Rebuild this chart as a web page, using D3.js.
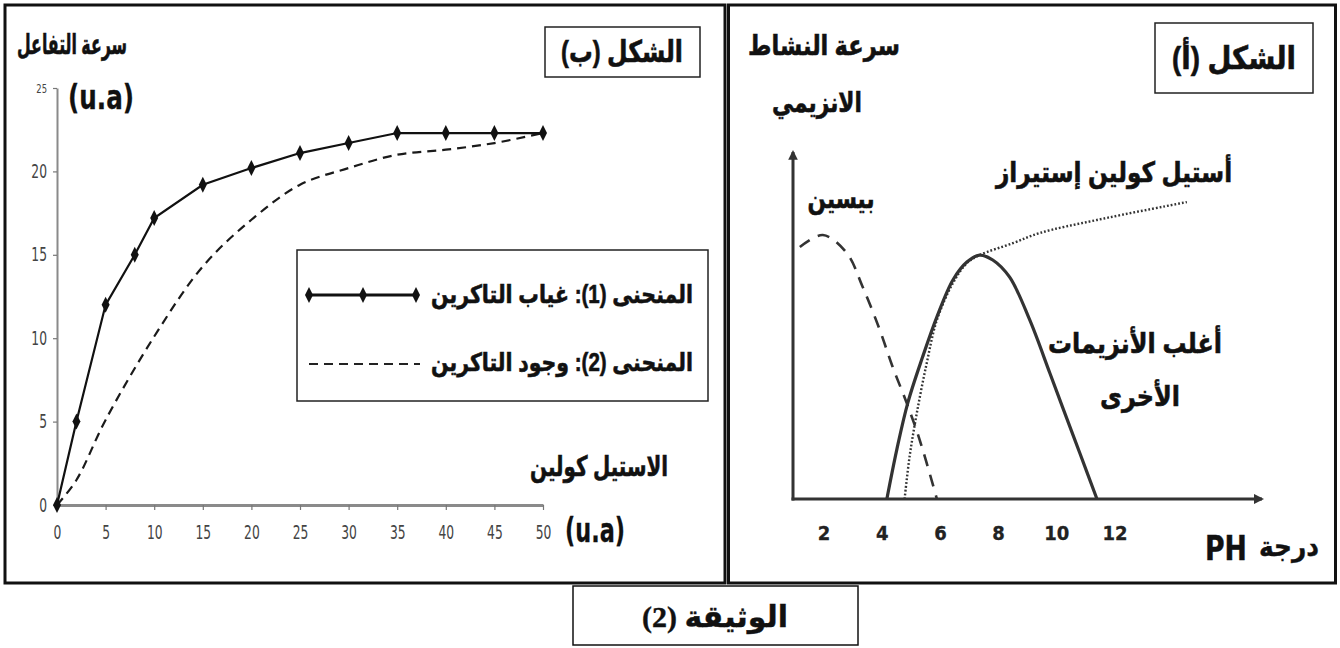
<!DOCTYPE html>
<html><head><meta charset="utf-8">
<script src="https://cdn.jsdelivr.net/npm/d3@7"></script>
<style>
html,body{margin:0;padding:0;background:#fff;}
svg{display:block;}
</style></head>
<body>
<svg id="chart" width="1340" height="648"></svg>
<script>
// ---------- DATA: figure (b) ----------
const substrate1 = [0, 2, 5, 8, 10, 15, 20, 25, 30, 35, 40, 45, 50];
const rateWithoutInhibitor = [0, 5, 12, 15, 17.2, 19.2, 20.2, 21.1, 21.7, 22.3, 22.3, 22.3, 22.3];
const substrate2 = [0, 2, 5, 10, 15, 20, 25, 30, 35, 40, 45, 50];
const rateWithInhibitor = [0, 1.5, 5.1, 10.1, 14.3, 17.1, 19.2, 20.2, 21.0, 21.3, 21.7, 22.3];
const rateTicks = [0, 5, 10, 15, 20, 25];
const substrateTicks = [0, 5, 10, 15, 20, 25, 30, 35, 40, 45, 50];

// ---------- DATA: figure (a) ----------
const pepsinPH  = [1.17, 1.96, 2.78, 3.33, 3.92, 4.36, 4.84, 5.29, 5.88];
const pepsinAct = [71.8, 75.2, 70.1, 60.4, 48.1, 37.6, 27.4, 16.8, 0];
const otherPH  = [4.16, 4.50, 4.88, 5.39, 5.88, 6.43, 6.91, 7.35, 7.80, 8.38, 9.07, 9.76, 10.21, 10.79, 11.38];
const otherAct = [0, 14.0, 27.4, 40.5, 51.9, 62.4, 67.5, 69.5, 68.1, 63.2, 51.0, 35.9, 25.9, 13.1, 0];
const achePH  = [4.77, 4.94, 5.19, 5.53, 5.88, 6.43, 6.91, 7.35, 8.49, 9.42, 11.38, 14.47];
const acheAct = [0, 12.0, 24.5, 38.7, 51.0, 61.5, 67.2, 69.5, 72.9, 75.8, 79.5, 84.6];
const phTicks = [2, 4, 6, 8, 10, 12];

// ---------- TEXTS ----------
const figB = "الشكل (ب)", figA = "الشكل (أ)";
const yTitleB = "سرعة التفاعل", unit = "(u.a)", xTitleB = "الاستيل كولين";
const legend1 = "المنحنى (1): غياب التاكرين", legend2 = "المنحنى (2): وجود التاكرين";
const yTitleA1 = "سرعة النشاط", yTitleA2 = "الانزيمي";
const pepsinLbl = "بيسين", acheLbl = "أستيل كولين إستيراز";
const otherLbl1 = "أغلب الأنزيمات", otherLbl2 = "الأخرى";
const xTitleAword = "درجة", xTitleAunit = "PH", caption = "الوثيقة (2)";

const svg = d3.select("#chart");
const AR = "'Liberation Sans','DejaVu Sans',sans-serif";
const NARROW = "'Liberation Sans Narrow','DejaVu Sans Condensed','Liberation Sans',sans-serif";

function label(txt, cx, cy, w, fs, opts = {}) {
  const t = svg.append("text")
    .attr("x", 0).attr("y", 0)
    .attr("text-anchor", "middle")
    .attr("dominant-baseline", "central")
    .attr("direction", opts.ltr ? "ltr" : "rtl")
    .style("font-family", opts.family || AR)
    .style("font-weight", "bold")
    .style("font-size", fs + "px")
    .attr("fill", "#111")
    .attr("stroke", "#111").attr("stroke-width", opts.sw == null ? 0.6 : opts.sw)
    .text(txt);
  const bw = t.node().getBBox().width || 1;
  let k = w ? w / bw : 1;
  k = Math.max(0.45, Math.min(1.6, k));
  t.attr("transform", `translate(${cx},${cy}) scale(${k},1)`);
  return t;
}

// ---------- FRAMES ----------
svg.append("rect").attr("x", 5).attr("y", 5).attr("width", 720).attr("height", 578)
  .attr("fill", "none").attr("stroke", "#111").attr("stroke-width", 3);
svg.append("rect").attr("x", 728.5).attr("y", 5).attr("width", 607).attr("height", 578)
  .attr("fill", "none").attr("stroke", "#111").attr("stroke-width", 3);
svg.append("rect").attr("x", 573).attr("y", 586).attr("width", 285).attr("height", 59)
  .attr("fill", "#fff").attr("stroke", "#111").attr("stroke-width", 1.5);
label(caption, 715, 616, 146, 30, { family: "'Liberation Serif','DejaVu Serif','DejaVu Sans',serif", sw: 0.4 });

// =============== FIGURE (b) ===============
const xL = d3.scaleLinear().domain([0, 50]).range([57, 543]);
const yL = d3.scaleLinear().domain([0, 25]).range([505, 88]);

const gy = svg.append("g").attr("transform", `translate(${xL(0)},0)`)
  .call(d3.axisLeft(yL).tickValues(rateTicks).tickSize(4).tickSizeOuter(0).tickPadding(6));
gy.select(".domain").attr("stroke", "#8a8a8a").attr("stroke-width", 2);
gy.selectAll(".tick line").attr("stroke", "#777").attr("stroke-width", 1.2);
gy.selectAll(".tick text").each(function (d) {
  const s = 0.72;
  d3.select(this)
    .style("font-family", NARROW).style("font-size", d === 25 ? "13px" : "19px")
    .attr("fill", "#444")
    .attr("x", -10 / s)
    .attr("transform", `scale(${s},1)`);
});

const gx = svg.append("g").attr("transform", `translate(0,${yL(0)})`)
  .call(d3.axisBottom(xL).tickValues(substrateTicks).tickSize(5).tickSizeOuter(0).tickPadding(16));
gx.select(".domain").attr("stroke", "#8a8a8a").attr("stroke-width", 3);
gx.selectAll(".tick line").attr("stroke", "#777").attr("stroke-width", 1.2);
gx.selectAll(".tick text")
  .style("font-family", NARROW).style("font-size", "19px")
  .attr("fill", "#444").attr("transform", "scale(0.72,1)");

// curve 2 (dashed)
const line2 = d3.line().x((d, i) => xL(substrate2[i])).y(d => yL(d)).curve(d3.curveCatmullRom.alpha(0.5));
svg.append("path").attr("d", line2(rateWithInhibitor))
  .attr("fill", "none").attr("stroke", "#1a1a1a").attr("stroke-width", 2.2)
  .attr("stroke-dasharray", "9,6");

// curve 1 (solid + diamonds)
const line1 = d3.line().x((d, i) => xL(substrate1[i])).y(d => yL(d));
svg.append("path").attr("d", line1(rateWithoutInhibitor))
  .attr("fill", "none").attr("stroke", "#111").attr("stroke-width", 2.2);
const diamond = "M0,-8 L4,0 L0,8 L-4,0 Z";
svg.append("g").selectAll("path").data(rateWithoutInhibitor).join("path")
  .attr("d", diamond)
  .attr("transform", (d, i) => `translate(${xL(substrate1[i])},${yL(d)})`)
  .attr("fill", "#111");

// titles
label(yTitleB, 72, 44, 110, 28);
label(unit, 101, 97, 66, 34, { ltr: true, sw: 0.3, family: NARROW });
label(xTitleB, 599, 466, 138, 28);
label(unit, 595, 530, 60, 34, { ltr: true, sw: 0.3, family: NARROW });
svg.append("rect").attr("x", 545).attr("y", 27).attr("width", 155).attr("height", 50)
  .attr("fill", "none").attr("stroke", "#222").attr("stroke-width", 1.5);
label(figB, 622, 52, 122, 30);

// legend
svg.append("rect").attr("x", 297).attr("y", 250).attr("width", 411).attr("height", 151)
  .attr("fill", "#fff").attr("stroke", "#222").attr("stroke-width", 1.5);
svg.append("line").attr("x1", 309).attr("x2", 416).attr("y1", 295).attr("y2", 295)
  .attr("stroke", "#111").attr("stroke-width", 2.8);
svg.append("g").selectAll("path").data([309, 363, 416]).join("path")
  .attr("d", diamond).attr("transform", d => `translate(${d},295)`).attr("fill", "#111");
svg.append("line").attr("x1", 309).attr("x2", 420).attr("y1", 364).attr("y2", 364)
  .attr("stroke", "#222").attr("stroke-width", 2.2).attr("stroke-dasharray", "9,6");
label(legend1, 562, 294, 262, 25);
label(legend2, 562, 362, 262, 25);

// =============== FIGURE (a) ===============
const xR = d3.scaleLinear().domain([2, 12]).range([824, 1115]);
const yR = d3.scaleLinear().domain([0, 100]).range([499, 148]);

const defs = svg.append("defs");
defs.append("marker").attr("id", "arrow").attr("viewBox", "0 0 10 10")
  .attr("refX", 8).attr("refY", 5).attr("markerWidth", 3.2).attr("markerHeight", 3.2)
  .attr("orient", "auto")
  .append("path").attr("d", "M0,0 L10,5 L0,10 Z").attr("fill", "#333");

svg.append("line").attr("x1", 793).attr("y1", yR(0) + 1.5).attr("x2", 793).attr("y2", yR(100) + 4)
  .attr("stroke", "#333").attr("stroke-width", 3).attr("marker-end", "url(#arrow)");
svg.append("line").attr("x1", 791.5).attr("y1", yR(0)).attr("x2", 1262).attr("y2", yR(0))
  .attr("stroke", "#333").attr("stroke-width", 3.2).attr("marker-end", "url(#arrow)");

svg.append("g").selectAll("text").data(phTicks).join("text")
  .attr("x", d => xR(d)).attr("y", 533)
  .attr("text-anchor", "middle").attr("dominant-baseline", "central")
  .style("font-family", NARROW).style("font-weight", "bold").style("font-size", "20px")
  .attr("fill", "#222").attr("stroke", "#222").attr("stroke-width", 0.3).text(d => d);

const lineR = (xs) => d3.line().x((d, i) => xR(xs[i])).y(d => yR(d)).curve(d3.curveCatmullRom.alpha(0.5));

svg.append("path").attr("d", lineR(achePH)(acheAct))
  .attr("fill", "none").attr("stroke", "#333").attr("stroke-width", 2.4)
  .attr("stroke-dasharray", "1.8,2");
svg.append("path").attr("d", lineR(otherPH)(otherAct))
  .attr("fill", "none").attr("stroke", "#333").attr("stroke-width", 3.2);
svg.append("path").attr("d", lineR(pepsinPH)(pepsinAct))
  .attr("fill", "none").attr("stroke", "#333").attr("stroke-width", 2.6)
  .attr("stroke-dasharray", "12,9");

svg.append("rect").attr("x", 1155).attr("y", 23).attr("width", 158).attr("height", 70)
  .attr("fill", "none").attr("stroke", "#222").attr("stroke-width", 1.5);
label(figA, 1234, 58, 124, 32);
label(yTitleA1, 824, 45, 152, 28);
label(yTitleA2, 817, 102, 90, 28);
label(pepsinLbl, 841, 198, 67, 28);
label(acheLbl, 1114, 172, 238, 28);
label(otherLbl1, 1135, 343, 174, 28);
label(otherLbl2, 1140, 396, 80, 28);
label(xTitleAword, 1289, 546, 60, 28, { sw: 0.4 });
label(xTitleAunit, 1226, 548, 42, 34, { ltr: true, sw: 0.4, family: NARROW });
</script>
</body></html>
